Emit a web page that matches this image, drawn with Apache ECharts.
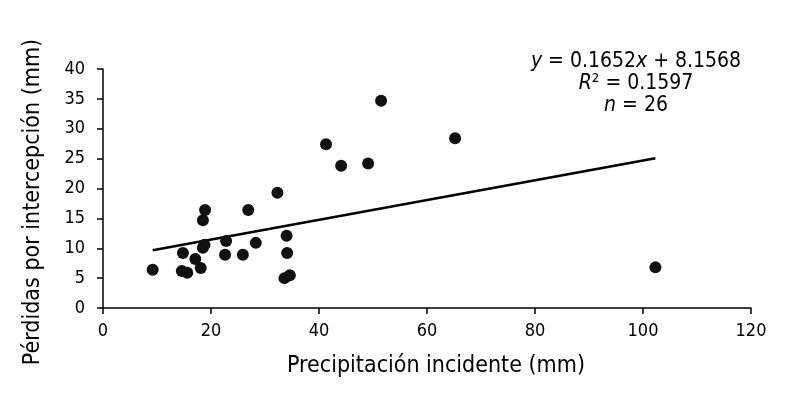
<!DOCTYPE html>
<html>
<head>
<meta charset="utf-8">
<script src="https://cdn.jsdelivr.net/npm/echarts@6/dist/echarts.min.js"></script>
<style>html,body{margin:0;padding:0;background:#fff;}#c{width:792px;height:394px;}</style>
</head>
<body>
<div id="c"></div>
<script>
var precip = [9.2, 14.8, 14.6, 15.6, 17.1, 18.1, 18.5, 18.8, 18.5, 18.9, 22.8, 22.6, 25.9, 26.9, 28.3, 32.3, 34.0, 34.1, 33.6, 34.6, 41.3, 44.1, 49.1, 51.5, 65.2, 102.3];
var perdidas = [6.4, 9.2, 6.2, 5.9, 8.2, 6.7, 10.1, 10.6, 14.7, 16.4, 11.2, 8.9, 8.9, 16.4, 10.9, 19.3, 12.1, 9.2, 5.0, 5.5, 27.4, 23.8, 24.2, 34.7, 28.4, 6.8];
var slope = 0.1652, intercept = 8.1568;
var xTicks = [0, 20, 40, 60, 80, 100, 120];
var yTicks = [0, 5, 10, 15, 20, 25, 30, 35, 40];

var pts = precip.map(function (x, i) { return [x, perdidas[i]]; });
var xmin = Math.min.apply(null, precip), xmax = Math.max.apply(null, precip);
var trend = [[xmin, slope * xmin + intercept], [xmax, slope * xmax + intercept]];

var FF = '"DejaVu Sans Condensed", "DejaVu Sans"';
var chart = echarts.init(document.getElementById('c'), null, {renderer: 'canvas'});
chart.setOption({
  backgroundColor: '#fff',
  animation: false,
  grid: {left: 103, right: 41, top: 69, bottom: 86, containLabel: false},
  xAxis: {
    type: 'value', min: xTicks[0], max: xTicks[xTicks.length - 1], interval: 20,
    axisLine: {show: true, lineStyle: {color: '#000', width: 1.5}},
    axisTick: {show: true, length: 6, inside: false, lineStyle: {color: '#000', width: 1.5}},
    axisLabel: {color: '#000', fontSize: 18, fontFamily: FF, margin: 14},
    splitLine: {show: false}
  },
  yAxis: {
    type: 'value', min: yTicks[0], max: yTicks[yTicks.length - 1], interval: 5,
    axisLine: {show: true, lineStyle: {color: '#000', width: 1.5}},
    axisTick: {show: true, length: 6, inside: false, lineStyle: {color: '#000', width: 1.5}},
    axisLabel: {color: '#000', fontSize: 18, fontFamily: FF, margin: 18},
    splitLine: {show: false}
  },
  graphic: [
    {type: 'text', x: 436, y: 366, style: {text: 'Precipitación incidente (mm)', fill: '#000', font: '23px ' + FF, textAlign: 'center', textVerticalAlign: 'middle'}},
    {type: 'text', x: 33, y: 202, rotation: Math.PI / 2, style: {text: 'Pérdidas por intercepción (mm)', fill: '#000', font: '23px ' + FF, textAlign: 'center', textVerticalAlign: 'middle'}},
    {type: 'text', x: 636, y: 62, style: {text: '{i|y} = 0.1652{i|x} + 8.1568', fill: '#000', font: '21px ' + FF, textAlign: 'center', textVerticalAlign: 'middle', rich: {i: {fontStyle: 'italic', fontSize: 21, fontFamily: FF}}}},
    {type: 'text', x: 636, y: 84, style: {text: '{i|R}² = 0.1597', fill: '#000', font: '21px ' + FF, textAlign: 'center', textVerticalAlign: 'middle', rich: {i: {fontStyle: 'italic', fontSize: 21, fontFamily: FF}}}},
    {type: 'text', x: 636, y: 106, style: {text: '{i|n} = 26', fill: '#000', font: '21px ' + FF, textAlign: 'center', textVerticalAlign: 'middle', rich: {i: {fontStyle: 'italic', fontSize: 21, fontFamily: FF}}}}
  ],
  series: [
    {type: 'line', data: trend, showSymbol: false, symbol: 'none', lineStyle: {color: '#000', width: 2.5}, z: 2},
    {type: 'scatter', data: pts, symbol: 'circle', symbolSize: 12, itemStyle: {color: '#111', opacity: 1}, z: 3}
  ]
});
</script>
</body>
</html>
